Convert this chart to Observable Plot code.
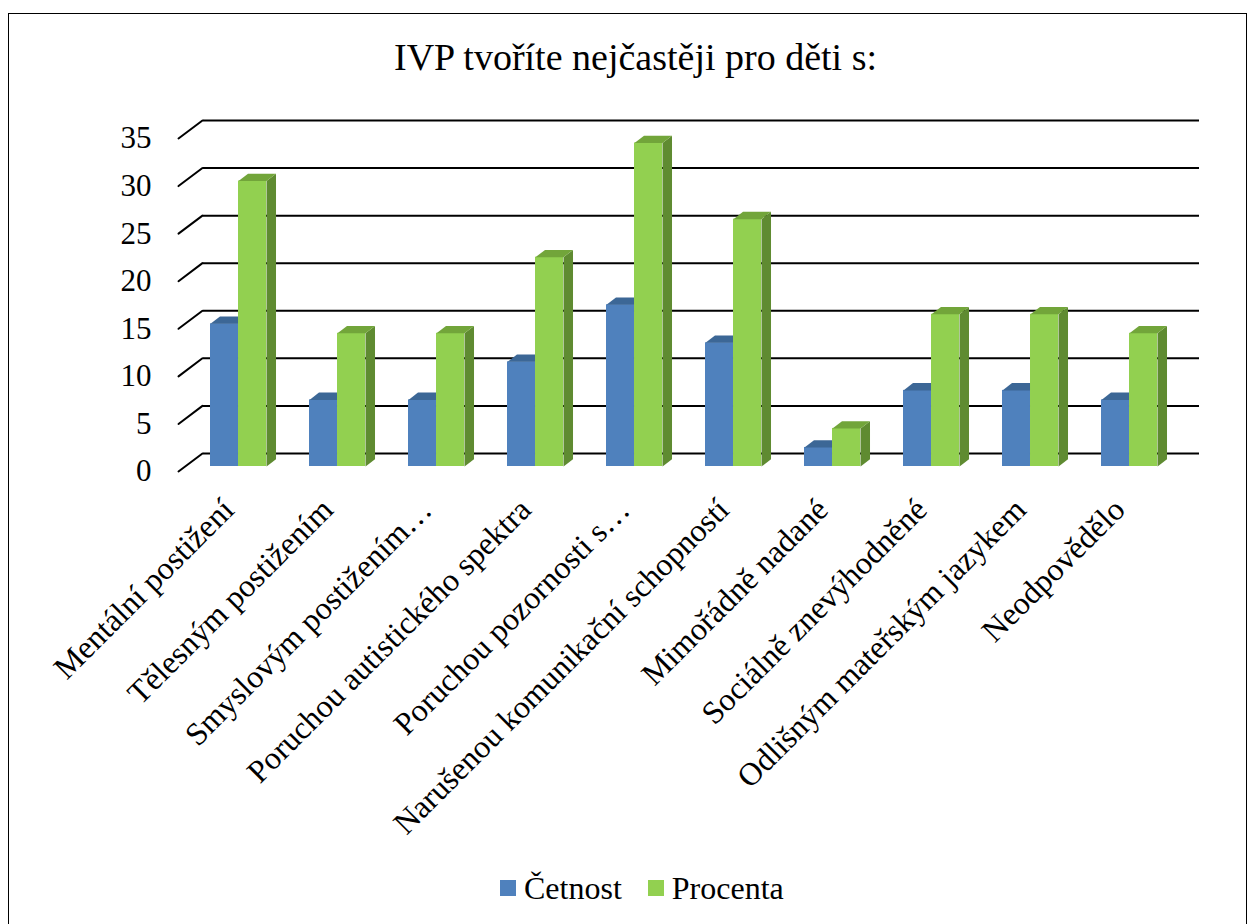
<!DOCTYPE html>
<html>
<head>
<meta charset="utf-8">
<script src="https://cdn.jsdelivr.net/npm/d3@7"></script>
<script src="https://cdn.jsdelivr.net/npm/@observablehq/plot@0.6"></script>
<style>
  body { margin: 0; background: #fff; font-family: "Liberation Serif", "Times New Roman", serif; color: #000; }
  #wrap { position: relative; width: 1252px; height: 924px; overflow: hidden; background: #fff; }
  #border { position: absolute; left: 8px; top: 13px; width: 1239px; height: 960px; border: 1.5px solid #000; box-sizing: border-box; }
  #title { position: absolute; top: 38px; left: 0; width: 1271px; text-align: center; font-size: 38px; line-height: 1; white-space: nowrap; }
  #chart { position: absolute; left: 0; top: 90px; }
  #legend { position: absolute; left: 500px; top: 872px; display: flex; align-items: center; font-size: 32px; line-height: 1; white-space: nowrap; }
  .sw { display: inline-block; width: 16px; height: 16px; margin-right: 8px; }
  .item { display: flex; align-items: center; margin-right: 26px; }
  #chart svg text { font-family: "Liberation Serif", "Times New Roman", serif; }
</style>
</head>
<body>
<div id="wrap">
  <div id="border"></div>
  <div id="title"></div>
  <div id="chart"></div>
  <div id="legend"></div>
</div>
<script>
// ---- data ----
const titleText = "IVP tvoříte nejčastěji pro děti s:";
const categories = [
  "Mentální postižení",
  "Tělesným postižením",
  "Smyslovým postižením…",
  "Poruchou autistického spektra",
  "Poruchou pozornosti s…",
  "Narušenou komunikační schopností",
  "Mimořádně nadané",
  "Sociálně znevýhodněné",
  "Odlišným mateřským jazykem",
  "Neodpovědělo"
];
const cetnost  = [15, 7, 7, 11, 17, 13, 2, 8, 8, 7];
const procenta = [30, 14, 14, 22, 34, 26, 4, 16, 16, 14];
const yTicks = [0, 5, 10, 15, 20, 25, 30, 35];
const seriesNames = ["Četnost", "Procenta"];

// ---- styles ----
const blue = "#4F81BD", blueTop = "#3C6796";
const green = "#92D050", greenTop = "#72A53A", greenSide = "#5F8B31";
const serif = "'Liberation Serif', 'Times New Roman', serif";

const width = 1252, height = 760;
const mt = 43, mb = 384, ml = 185, mr = 71;
const plotH = height - mt - mb;
const padInner = 0.4375, padOuter = 0.21875;
const step = (width - ml - mr) / categories.length;
const half = step * (1 - padInner) / 2;
const D1 = 9.5, D2 = 7.3;

const data = categories.map((c, i) => ({cat: c, cetnost: cetnost[i], procenta: procenta[i]}));

const lineShape = {draw(ctx, l) { ctx.moveTo(0, 0); ctx.lineTo(0, -l); }};
const topBlueShape = {draw(ctx) {
  ctx.moveTo(-half, 0); ctx.lineTo(0, 0); ctx.lineTo(D1, -D2); ctx.lineTo(-half + D1, -D2); ctx.closePath();
}};
const topGreenShape = {draw(ctx) {
  ctx.moveTo(0, 0); ctx.lineTo(half, 0); ctx.lineTo(half + D1, -D2); ctx.lineTo(D1, -D2); ctx.closePath();
}};
const sideGreenShape = {draw(ctx, l) {
  ctx.moveTo(half, 0); ctx.lineTo(half, -l); ctx.lineTo(half + D1, -l - D2); ctx.lineTo(half + D1, -D2); ctx.closePath();
}};

const chart = Plot.plot({
  width, height,
  marginTop: mt, marginBottom: mb, marginLeft: ml, marginRight: mr,
  style: `font-family: ${serif}; font-size: 30px; color: #000; background: transparent; overflow: visible;`,
  x: {type: "band", domain: categories, paddingInner: padInner, paddingOuter: padOuter, align: 0.5, label: null},
  y: {domain: [0, 35], label: null},
  length: {type: "linear", domain: [0, 35], range: [0, plotH]},
  marks: [
    // back wall gridlines
    Plot.ruleY(yTicks, {y: d => d, dx: 18, dy: -13, stroke: "#000", strokeWidth: 2}),
    // side wall diagonals
    Plot.vector(yTicks, {y: d => d, frameAnchor: "left", anchor: "start", length: 30, rotate: 53,
      dx: -7, dy: 5, shape: lineShape, stroke: "#000", strokeWidth: 2, fill: "none"}),
    // Četnost
    Plot.barY(data, {x: "cat", y: "cetnost", fill: blue, insetRight: half}),
    Plot.vector(data, {x: "cat", y: "cetnost", anchor: "start", shape: topBlueShape, fill: blueTop, stroke: "none"}),
    // Procenta
    Plot.barY(data, {x: "cat", y: "procenta", fill: green, insetLeft: half}),
    Plot.vector(data, {x: "cat", y: () => 0, length: "procenta", anchor: "start", shape: sideGreenShape, fill: greenSide, stroke: "none"}),
    Plot.vector(data, {x: "cat", y: "procenta", anchor: "start", shape: topGreenShape, fill: greenTop, stroke: "none"}),
    // axes
    Plot.axisY(yTicks, {tickSize: 0, tickPadding: 34, dy: 5, fontSize: 31, fontFamily: serif, label: null}),
    Plot.axisX({tickSize: 0, tickRotate: -45, tickPadding: 12, dx: -10, dy: 26, fontSize: 32, fontFamily: serif, label: null})
  ]
});
document.getElementById("chart").appendChild(chart);
document.getElementById("title").textContent = titleText;

const legendColors = [blue, green];
const legend = document.getElementById("legend");
seriesNames.forEach((name, i) => {
  const item = document.createElement("div");
  item.className = "item";
  const sw = document.createElement("span");
  sw.className = "sw";
  sw.style.background = legendColors[i];
  const t = document.createElement("span");
  t.textContent = name;
  item.appendChild(sw); item.appendChild(t);
  legend.appendChild(item);
});
</script>
</body>
</html>
